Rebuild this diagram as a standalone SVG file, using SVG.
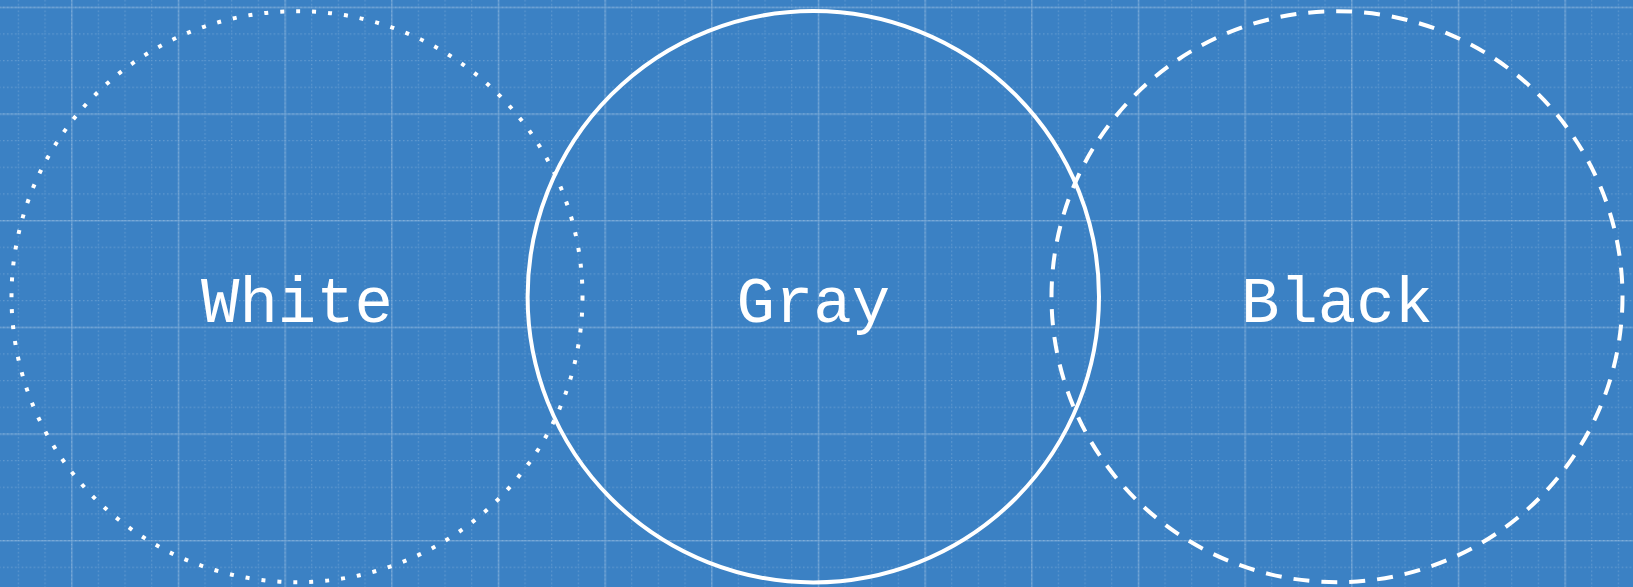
<svg xmlns="http://www.w3.org/2000/svg" width="1633" height="587" viewBox="0 0 1633 587">
  <style>
    .ring { fill: none; stroke: #ffffff; stroke-width: 4; }
    .dotted { stroke-dasharray: 4 12; }
    .dashed { stroke-dasharray: 16 12; }
    .label { font-family: "Liberation Mono", "DejaVu Sans Mono", monospace; font-size: 64px; fill: #ffffff; text-anchor: middle; }
    .minor { stroke: #ffffff; stroke-opacity: 0.22; stroke-width: 1.3; stroke-dasharray: 1.3 2.7; fill: none; }
    .major { stroke: #ffffff; stroke-opacity: 0.2; stroke-width: 1.5; fill: none; }
  </style>
  <defs>
    <pattern id="minorGrid" patternUnits="userSpaceOnUse" x="17.78" y="6.67" width="26.667" height="26.667">
      <path class="minor" d="M0 0.5 H26.667 M0.5 0 V26.667"/>
    </pattern>
    <pattern id="majorGrid" patternUnits="userSpaceOnUse" x="71.11" y="6.67" width="106.667" height="106.667">
      <path class="major" d="M0 0.75 H106.667 M0.75 0 V106.667"/>
    </pattern>
  </defs>
  <g id="background">
    <rect width="1633" height="587" fill="#3b81c4"/>
    <rect width="1633" height="587" fill="url(#minorGrid)"/>
    <rect width="1633" height="587" fill="url(#majorGrid)"/>
  </g>
  <g id="node-white">
    <circle class="ring dotted" cx="297" cy="296.7" r="285.5"/>
    <text class="label" x="297" y="322">White</text>
  </g>
  <g id="node-gray">
    <circle class="ring" cx="813.3" cy="296.7" r="285.7"/>
    <text class="label" x="813.3" y="322">Gray</text>
  </g>
  <g id="node-black">
    <circle class="ring dashed" cx="1337" cy="296.7" r="285.5"/>
    <text class="label" x="1337" y="322">Black</text>
  </g>
  <g id="connectors"/>
</svg>
